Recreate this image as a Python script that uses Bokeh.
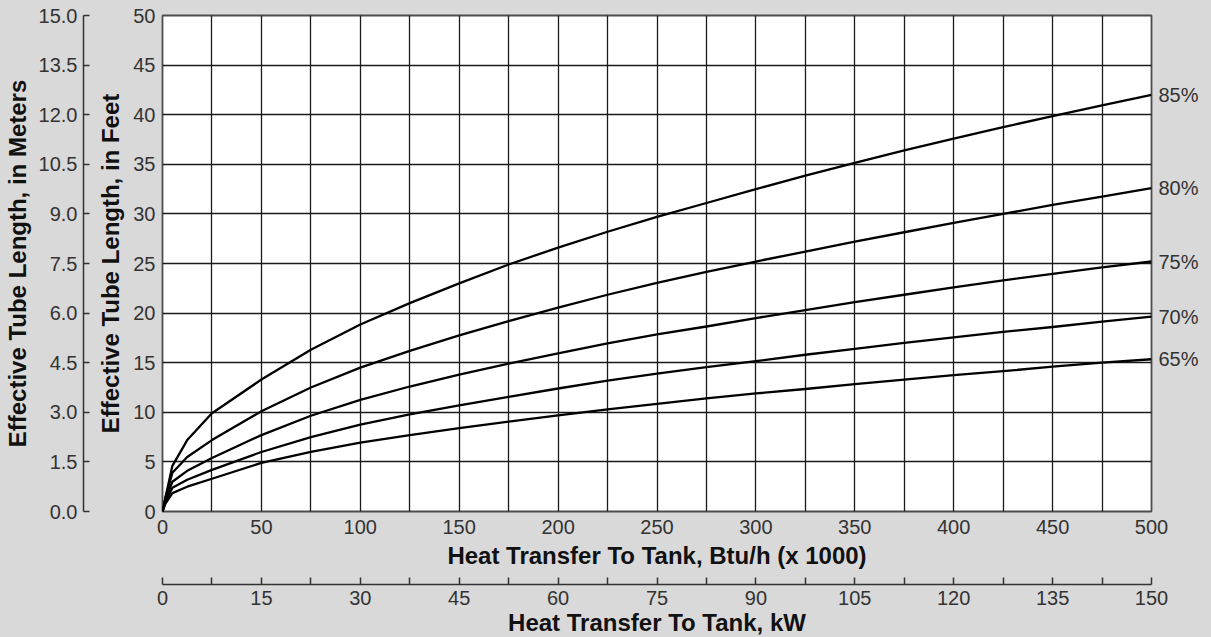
from bokeh.plotting import figure
from bokeh.models import (LinearAxis, Range1d, FixedTicker, NumeralTickFormatter)
from bokeh.embed import file_html
from bokeh.resources import INLINE

# ---- data ----
btu_x = [0, 1.5, 5, 12.5, 25, 50, 75, 100, 125, 150, 175, 200, 225, 250,
         275, 300, 325, 350, 375, 400, 425, 450, 475, 500]
eff_85 = [0, 1.4, 4.6, 7.2, 9.9, 13.3, 16.3, 18.85, 21.0, 23.0, 24.9, 26.6, 28.2, 29.7,
          31.1, 32.5, 33.85, 35.15, 36.4, 37.6, 38.75, 39.85, 40.95, 42.0]
eff_80 = [0, 1.4, 3.9, 5.5, 7.2, 10.1, 12.5, 14.5, 16.2, 17.75, 19.2, 20.55, 21.85, 23.05,
          24.15, 25.2, 26.2, 27.2, 28.15, 29.1, 30.0, 30.9, 31.75, 32.6]
eff_75 = [0, 1.2, 3.0, 4.1, 5.4, 7.7, 9.65, 11.25, 12.6, 13.8, 14.9, 15.95, 16.95, 17.85,
          18.65, 19.5, 20.3, 21.1, 21.85, 22.6, 23.3, 23.95, 24.6, 25.2]
eff_70 = [0, 1.0, 2.4, 3.2, 4.2, 6.0, 7.5, 8.75, 9.8, 10.7, 11.55, 12.4, 13.2, 13.9,
          14.55, 15.15, 15.8, 16.4, 17.0, 17.55, 18.1, 18.6, 19.15, 19.65]
eff_65 = [0, 0.8, 1.85, 2.5, 3.3, 4.9, 6.0, 6.95, 7.7, 8.4, 9.05, 9.7, 10.3, 10.85,
          11.4, 11.9, 12.35, 12.85, 13.3, 13.75, 14.15, 14.6, 15.0, 15.35]
series_labels = ["85%", "80%", "75%", "70%", "65%"]

feet_ticks = list(range(0, 51, 5))
meter_ticks = [0.0, 1.5, 3.0, 4.5, 6.0, 7.5, 9.0, 10.5, 12.0, 13.5, 15.0]
btu_ticks = list(range(0, 501, 50))
btu_grid = list(range(0, 501, 25))
kw_ticks = list(range(0, 151, 15))
kw_minor = [7.5 + 15 * i for i in range(10)]

BG = "#d9d9d9"
FONT = "Liberation Sans"
TICK_SIZE = "20px"
LABEL_SIZE = "24px"
TXT = "#333333"

p = figure(frame_width=989, frame_height=496, x_range=Range1d(0, 500), y_range=Range1d(0, 50),
           output_backend="svg", toolbar_location=None, min_border_left=162,
           min_border_right=60, min_border_top=15, min_border_bottom=126,
           background_fill_color="white", border_fill_color=BG)
p.extra_x_ranges = {"kw": Range1d(0, 150)}
p.extra_y_ranges = {"m": Range1d(0, 15)}
p.outline_line_color = "#4d4d4d"
p.outline_line_width = 1.8

# grid
p.xgrid.ticker = FixedTicker(ticks=btu_grid)
p.ygrid.ticker = FixedTicker(ticks=feet_ticks)
for g in (p.xgrid, p.ygrid):
    g.grid_line_color = "#1a1a1a"
    g.grid_line_width = 1.3


def style_axis(ax):
    ax.major_label_text_font = FONT
    ax.major_label_text_font_size = TICK_SIZE
    ax.major_label_text_color = TXT
    ax.axis_label_text_font = FONT
    ax.axis_label_text_font_size = LABEL_SIZE
    ax.axis_label_text_font_style = "bold"
    ax.axis_label_text_color = "#111111"


def spacer(size, tick, **kw):
    # an axis with one background-coloured tick, used only to leave a gap
    ax = LinearAxis(ticker=FixedTicker(ticks=[tick]), axis_line_color=None,
                    major_tick_line_color=BG, minor_tick_line_color=None,
                    major_tick_out=size, major_tick_in=0, minor_tick_out=0, minor_tick_in=0,
                    major_label_text_font_size="1px", major_label_text_color=BG,
                    major_label_standoff=0, **kw)
    return ax


# feet axis (default left)
ya = p.yaxis[0]
ya.ticker = FixedTicker(ticks=feet_ticks)
ya.axis_label = "Effective Tube Length, in Feet"
ya.axis_line_color = None
ya.major_tick_line_color = None
ya.minor_tick_line_color = None
ya.major_tick_out = 0
ya.major_tick_in = 0
ya.major_label_standoff = 7
ya.axis_label_standoff = 6
style_axis(ya)

p.add_layout(spacer(7, 2.5), "left")

# meters axis
ma = LinearAxis(y_range_name="m", ticker=FixedTicker(ticks=meter_ticks),
                formatter=NumeralTickFormatter(format="0.0"),
                axis_label="Effective Tube Length, in Meters")
ma.axis_line_color = "#333333"
ma.axis_line_width = 1.5
ma.major_tick_line_color = "#333333"
ma.major_tick_line_width = 1.5
ma.major_tick_in = 6
ma.major_tick_out = 0
ma.minor_tick_line_color = None
ma.major_label_standoff = 6
ma.axis_label_standoff = 5
style_axis(ma)
p.add_layout(ma, "left")

# Btu axis (default below)
xa = p.xaxis[0]
xa.ticker = FixedTicker(ticks=btu_ticks)
xa.axis_label = "Heat Transfer To Tank, Btu/h (x 1000)"
xa.axis_line_color = None
xa.major_tick_line_color = None
xa.minor_tick_line_color = None
xa.major_tick_out = 0
xa.major_tick_in = 0
xa.major_label_standoff = 8
xa.axis_label_standoff = 5
style_axis(xa)

p.add_layout(spacer(9, 12.5), "below")

# kW axis
ka = LinearAxis(x_range_name="kw", ticker=FixedTicker(ticks=kw_ticks, minor_ticks=kw_minor),
                axis_label="Heat Transfer To Tank, kW")
ka.axis_line_color = "#333333"
ka.axis_line_width = 1.5
ka.major_tick_line_color = "#333333"
ka.major_tick_line_width = 1.5
ka.minor_tick_line_color = "#333333"
ka.minor_tick_line_width = 1.5
ka.major_tick_in = 7
ka.major_tick_out = 0
ka.minor_tick_in = 7
ka.minor_tick_out = 0
ka.major_label_standoff = 6
ka.axis_label_standoff = 1
style_axis(ka)
p.add_layout(ka, "below")

# curves
all_series = (eff_85, eff_80, eff_75, eff_70, eff_65)
for ys in all_series:
    p.line(btu_x, ys, line_color="black", line_width=2.3, line_join="round")

# series labels at the curve ends, drawn as a right-hand axis
ends = [ys[-1] for ys in all_series]
ra = LinearAxis(ticker=FixedTicker(ticks=ends),
                major_label_overrides={e: t for e, t in zip(ends, series_labels)})
ra.axis_line_color = None
ra.major_tick_line_color = None
ra.minor_tick_line_color = None
ra.major_tick_out = 0
ra.major_tick_in = 0
ra.major_label_standoff = 7
style_axis(ra)
p.add_layout(ra, "right")

html = file_html(p, INLINE)
css = "<style>html,body{margin:0;padding:0;overflow:hidden;background-color:#d9d9d9;}</style>"
html = html.replace("</head>", css + "</head>", 1)
open("out.html", "w").write(html)
